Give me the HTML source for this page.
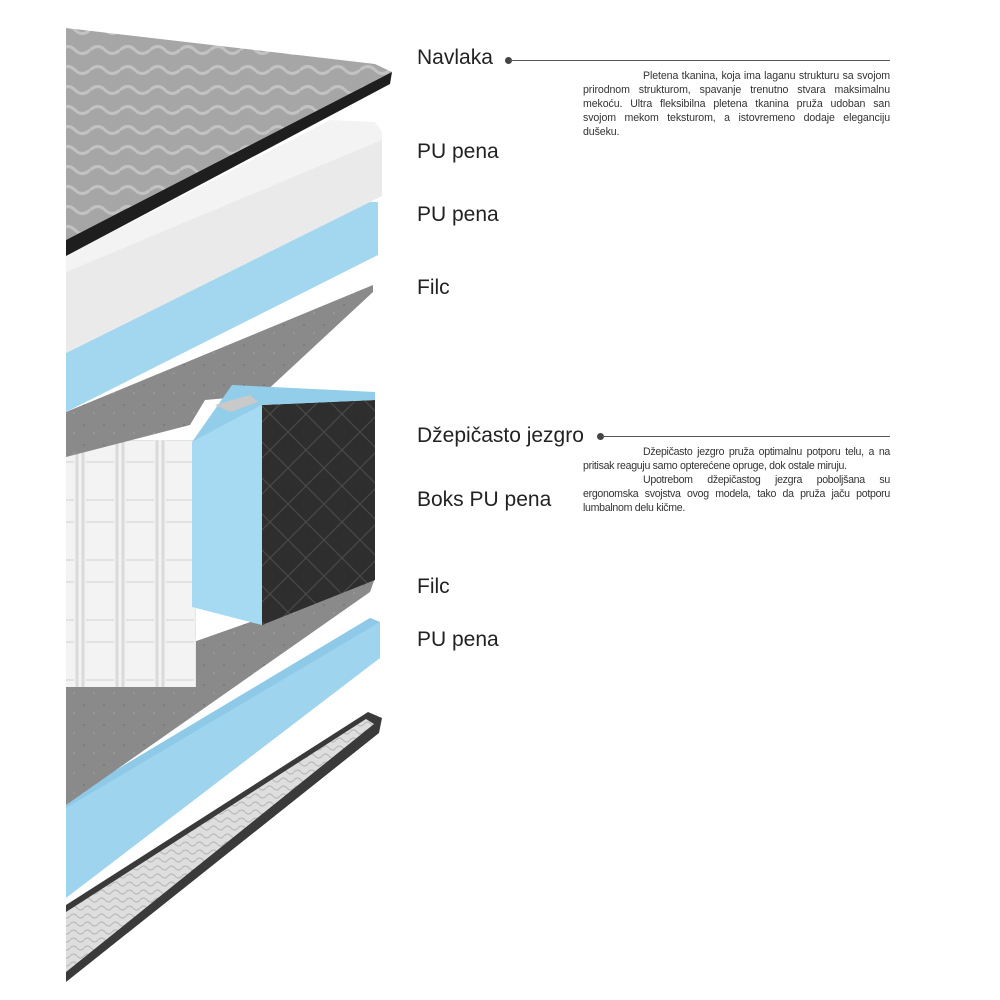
<!DOCTYPE html>
<html><head><meta charset="utf-8"><style>
body{margin:0;width:1000px;height:1000px;background:#fff;position:relative;overflow:hidden;font-family:"Liberation Sans",sans-serif}
.l{position:absolute;left:417px;font-size:21px;color:#222;line-height:24px}
.p{position:absolute;left:583px;width:307px;font-size:10.6px;line-height:14px;color:#333;text-align:justify;letter-spacing:-0.1px}
.ind{text-indent:60px}
.ln{position:absolute;height:1px;background:#555}
.dot{position:absolute;width:7px;height:7px;border-radius:50%;background:#444}
</style></head><body>
<svg width="1000" height="1000" style="position:absolute;left:0;top:0">
<defs>
<pattern id="qd" width="36" height="36" patternUnits="userSpaceOnUse"><rect width="36" height="36" fill="#2e2e2e"/><path d="M0 0L36 36M36 0L0 36" stroke="#484848" stroke-width="1.2"/></pattern>
<pattern id="sp" width="40" height="60" patternUnits="userSpaceOnUse"><rect width="40" height="60" fill="#f3f3f3"/><path d="M3 0V60M37 0V60" stroke="#dadada" stroke-width="3"/><path d="M6 20H34M6 42H34" stroke="#e2e2e2" stroke-width="2"/></pattern>
<pattern id="kn" width="14" height="8" patternUnits="userSpaceOnUse"><rect width="14" height="8" fill="#dedede"/><path d="M0 4Q3.5 0 7 4T14 4" stroke="#bdbdbd" fill="none" stroke-width="1.3"/></pattern>
<pattern id="cv" width="30" height="20" patternUnits="userSpaceOnUse"><rect width="30" height="20" fill="#a6a6a6"/><path d="M0 10Q8 3 15 10T30 10" stroke="#c2c2c2" fill="none" stroke-width="3"/></pattern>
<pattern id="fl" width="20" height="20" patternUnits="userSpaceOnUse"><rect width="20" height="20" fill="#8a8a8a"/><circle cx="4" cy="5" r="1" fill="#777"/><circle cx="14" cy="13" r="1" fill="#9a9a9a"/></pattern>
</defs>
<polygon points="66,905 368,712 382,718 379,733 66,982" fill="#3a3a3a"/>
<polygon points="66,912 366,719 374,724 66,972" fill="url(#kn)"/>
<polygon points="66,800 370,618 380,622 380,658 66,898" fill="#9fd4ef"/>
<polygon points="66,800 370,618 380,622 66,808" fill="#8ec9e8"/>
<polygon points="66,687 375,578 370,592 66,805" fill="url(#fl)"/>
<rect x="66" y="440" width="130" height="247" fill="url(#sp)"/>
<polygon points="66,412 373,285 373,292 262,395 205,400 190,425 66,457" fill="url(#fl)"/>
<polygon points="262,405 375,400 375,580 262,625" fill="url(#qd)"/>
<polygon points="192,442 262,405 262,625 192,607" fill="#a6daf2"/>
<polygon points="192,442 232,385 375,392 375,400 262,405" fill="#92cde9"/>
<polygon points="215,405 250,395 258,402 230,412" fill="#c9c9c9"/>
<polygon points="66,353 340,202 378,202 378,255 66,412" fill="#a3d7f0"/>
<polygon points="66,256 330,120 375,122 382,132 382,196 66,353" fill="#f3f3f3"/>
<polygon points="66,272 382,140 382,196 66,353" fill="#eaeaea"/>
<polygon points="66,28 375,64 392,72 66,240" fill="url(#cv)"/>
<polygon points="66,240 392,72 390,84 66,256" fill="#1e1e1e"/>
</svg>
<div class="l" style="top:46px">Navlaka</div>
<div class="dot" style="left:505px;top:57px"></div><div class="ln" style="left:510px;top:60px;width:380px"></div>
<div class="p ind" style="top:69px">Pletena tkanina, koja ima laganu strukturu sa svojom prirodnom strukturom, spavanje trenutno stvara maksimalnu mekoću. Ultra fleksibilna pletena tkanina pruža udoban san svojom mekom teksturom, a istovremeno dodaje eleganciju dušeku.</div>
<div class="l" style="top:140px">PU pena</div>
<div class="l" style="top:203px">PU pena</div>
<div class="l" style="top:276px">Filc</div>
<div class="l" style="top:424px">Džepičasto jezgro</div>
<div class="dot" style="left:597px;top:433px"></div><div class="ln" style="left:602px;top:436px;width:288px"></div>
<div class="p" style="top:445px;letter-spacing:-0.3px"><div class="ind">Džepičasto jezgro pruža optimalnu potporu telu, a na pritisak reaguju samo opterećene opruge, dok ostale miruju.</div><div class="ind">Upotrebom džepičastog jezgra poboljšana su ergonomska svojstva ovog modela, tako da pruža jaču potporu lumbalnom delu kičme.</div></div>
<div class="l" style="top:488px">Boks PU pena</div>
<div class="l" style="top:575px">Filc</div>
<div class="l" style="top:628px">PU pena</div>
</body></html>
